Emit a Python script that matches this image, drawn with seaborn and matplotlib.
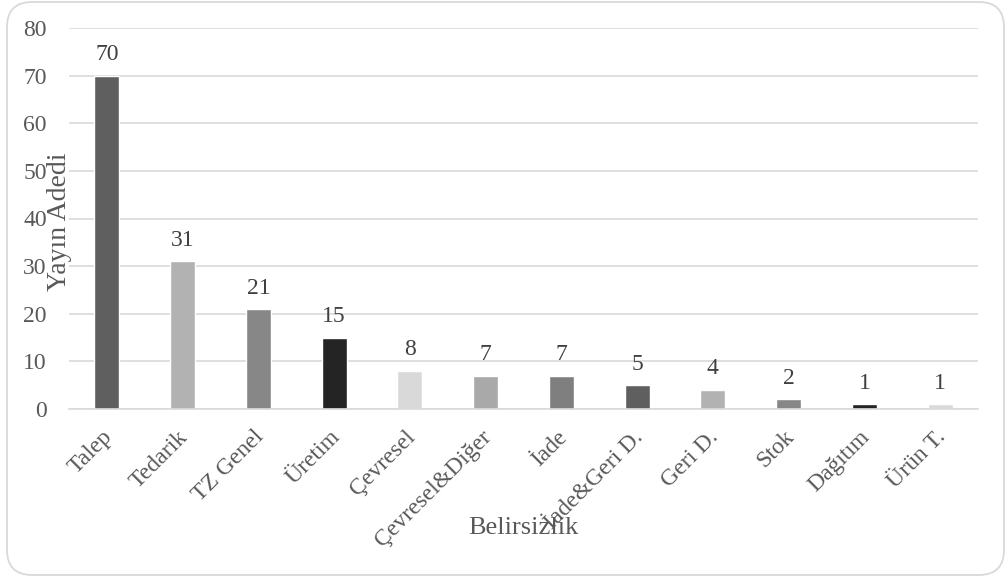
import matplotlib
matplotlib.use("Agg")
import matplotlib.pyplot as plt
import matplotlib.transforms as mtransforms
import seaborn as sns
import pandas as pd
from matplotlib.patches import FancyBboxPatch

categories = ["Talep", "Tedarik", "TZ Genel", "Üretim", "Çevresel", "Çevresel&Diğer",
              "İade", "İade&Geri D.", "Geri D.", "Stok", "Dağıtım", "Ürün T."]
values = [70, 31, 21, 15, 8, 7, 7, 5, 4, 2, 1, 1]
colors = ["#5f5f5f", "#b2b2b2", "#878787", "#242424", "#d9d9d9", "#a9a9a9",
          "#7f7f7f", "#5f5f5f", "#b2b2b2", "#878787", "#242424", "#d9d9d9"]
yticks = [0, 10, 20, 30, 40, 50, 60, 70, 80]

sns.set_theme(style="white")
plt.rcParams['font.family'] = ['Liberation Serif', 'DejaVu Serif']

df = pd.DataFrame({"cat": categories, "val": values})

W, H = 1006, 577
x0, x1, y0, y1 = 69, 978, 28, 409
fig = plt.figure(figsize=(W/100, H/100), dpi=100)
ax = fig.add_axes([x0/W, 1-y1/H, (x1-x0)/W, (y1-y0)/H])

sns.barplot(data=df, x="cat", y="val", hue="cat", palette=colors, legend=False,
            width=0.33, ax=ax, saturation=1)

ax.set_ylim(0, 80)
ax.set_yticks(yticks)
ax.set_xlim(-0.5, len(categories) - 0.5)
ax.yaxis.grid(True, color="#d9d9d9", linewidth=1.2)
ax.set_axisbelow(True)
for s in ["top", "right", "left"]:
    ax.spines[s].set_visible(False)
ax.spines["bottom"].set_color("#d9d9d9")
ax.spines["bottom"].set_linewidth(1.2)

ax.tick_params(axis="both", length=0, labelsize=17, colors="#595959")
ax.tick_params(axis="y", pad=16)
ax.tick_params(axis="x", pad=4)
offset = mtransforms.ScaledTranslation(-5/100, -12/100, fig.dpi_scale_trans)
for lab in ax.get_xticklabels():
    lab.set_rotation(45)
    lab.set_ha("right")
    lab.set_va("top")
    lab.set_rotation_mode("anchor")
    lab.set_transform(lab.get_transform() + offset)

for i, v in enumerate(values):
    ax.text(i, v + 2.2, str(v), ha="center", va="bottom", fontsize=17, color="#404040")

ax.set_xlabel("Belirsizlik", fontsize=19, color="#595959")
ax.set_ylabel("Yayın Adedi", fontsize=20, color="#595959")
ax.xaxis.set_label_coords((523-x0)/(x1-x0), -(528-y1)/(y1-y0))
ax.xaxis.label.set_va("center")
ax.yaxis.set_label_coords(-(x0-60)/(x1-x0), (y1-222)/(y1-y0))
ax.yaxis.label.set_va("center")

frame = FancyBboxPatch((7/W, 2/H), (1004-7)/W, (575-2)/H,
                       boxstyle="round,pad=0,rounding_size=0.025",
                       transform=fig.transFigure, facecolor="none",
                       edgecolor="#d9d9d9", linewidth=1.3, mutation_aspect=W/H)
fig.patches.append(frame)

fig.savefig("out.png", dpi=100, facecolor="white")
